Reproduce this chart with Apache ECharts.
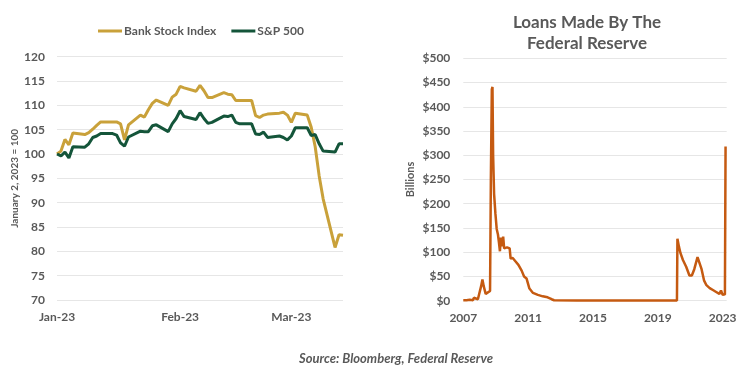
<!DOCTYPE html>
<html><head><meta charset="utf-8">
<script src="https://cdn.jsdelivr.net/npm/echarts@6/dist/echarts.min.js"></script>
<style>html,body{margin:0;padding:0;background:#fff}#c{width:750px;height:370px}</style>
</head><body><div id="c"></div><script>
// ---- Left chart data (January 2, 2023 = 100) ----
const tradeDates = ['01-02','01-03','01-04','01-05','01-06','01-09','01-10','01-11','01-12','01-13','01-16','01-17','01-18','01-19','01-20',
  '01-23','01-24','01-25','01-26','01-27','01-30','01-31','02-01','02-02','02-03','02-06','02-07','02-08','02-09','02-10',
  '02-13','02-14','02-15','02-16','02-17','02-20','02-21','02-22','02-23','02-24','02-27','02-28','03-01','03-02','03-03',
  '03-06','03-07','03-08','03-09','03-10','03-13','03-14','03-15'];
const bankIndex = [100.0,100.6,103.0,101.9,104.3,104.0,104.4,105.1,105.9,106.6,106.6,106.6,106.2,102.9,106.0,
  108.0,107.6,109.1,110.4,111.1,110.0,111.7,112.3,113.9,113.6,112.9,114.1,113.0,111.6,111.6,
  112.6,112.3,112.2,111.0,111.0,111.0,107.9,107.5,108.0,108.2,108.4,108.6,108.0,106.5,108.4,
  108.0,105.5,101.5,95.5,90.8,80.8,83.4,83.3];
const sp500 = [100.0,99.6,100.4,99.2,101.5,101.4,102.1,103.4,103.7,104.2,104.2,103.9,102.3,101.6,103.5,
  104.7,104.6,104.6,105.8,106.0,104.6,106.2,107.3,108.9,107.7,107.1,108.5,107.3,106.3,106.5,
  107.8,107.7,108.0,106.5,106.2,106.2,104.1,104.0,104.5,103.4,103.7,103.4,102.9,103.7,105.4,
  105.4,103.8,104.0,102.1,100.6,100.4,102.1,102.1];
const monthLabelDates = ['01-02','02-02','03-02'];
const monthLabels = ['Jan-23','Feb-23','Mar-23'];

// ---- Right chart data (Billions of dollars) ----
const fedYears = [2007.00,2007.20,2007.40,2007.60,2007.65,2007.70,2007.90,2008.00,2008.10,2008.18,2008.26,2008.38,2008.50,2008.65,
  2008.70,2008.76,2008.80,2008.84,2008.90,2008.98,2009.06,2009.14,2009.20,2009.26,2009.32,2009.38,2009.46,2009.52,2009.60,
  2009.70,2009.86,2009.92,2010.05,2010.20,2010.40,2010.60,2010.75,2010.90,2011.00,2011.08,2011.30,2011.60,2011.90,2012.20,
  2012.45,2012.60,2014.00,2016.00,2018.00,2019.60,2020.18,2020.21,2020.30,2020.40,2020.55,2020.75,2020.95,2021.10,2021.25,
  2021.45,2021.55,2021.70,2021.85,2022.00,2022.20,2022.40,2022.60,2022.70,2022.80,2022.90,2023.00,2023.14,2023.18];
const fedLoans = [1,1,2,1,6,2,3,4,30,44,30,14,18,20,
  250,436,441,300,220,180,148,136,120,102,130,112,132,108,112,
  110,108,87,88,82,74,62,50,46,44,25,16,12,9,7,
  3,1,0.5,0.5,0.5,0.5,0.5,128,112,98,84,70,52,52,65,
  90,87,65,42,32,26,22,18,20,14,21,12,13,318];
const yearLabels = ['2007','2011','2015','2019','2023'];

const dayNum = md => { const [m,d] = md.split('-').map(Number); return (Date.UTC(2023,m-1,d) - Date.UTC(2023,0,1)) / 864e5; };
const gray = '#595959';
const font = 'Lato, "Open Sans", sans-serif';
const bankColor = '#C9A13A', spColor = '#14553A', fedColor = '#C55A11';
const monthPos = monthLabelDates.map(dayNum);

const chart = echarts.init(document.getElementById('c'), null, {renderer:'canvas'});
chart.setOption({
  animation:false,
  textStyle:{fontFamily:font},
  title:[
    {text:'Loans Made By The\nFederal Reserve', left:582, top:7, textAlign:'center',
     textStyle:{fontSize:17, fontWeight:'bold', color:gray, lineHeight:21, fontFamily:font}},
    {text:'Source: Bloomberg, Federal Reserve', left:391, top:347, textAlign:'center',
     textStyle:{fontSize:13, fontWeight:'bold', fontStyle:'italic', color:gray, fontFamily:font}}
  ],
  legend:{left:93, top:20, icon:'rect', itemWidth:24, itemHeight:3, itemGap:15,
    textStyle:{color:gray, fontSize:12, fontWeight:'bold', fontFamily:font, padding:[0,0,0,-3]},
    data:['Bank Stock Index','S&P 500']},
  grid:[
    {left:57, top:56.7, width:286, height:243.3},
    {left:463.3, top:58.3, width:263.4, height:242.4}
  ],
  xAxis:[
    {type:'value', gridIndex:0, min:1, max:73, interval:1,
     axisLine:{show:false}, axisTick:{show:false}, splitLine:{show:false},
     axisLabel:{margin:11, color:gray, fontSize:12, fontWeight:'bold', fontFamily:font,
       formatter:v => { const i = monthPos.findIndex(p => Math.abs(p - v) < 1e-6); return i >= 0 ? monthLabels[i] : ''; }}},
    {type:'value', gridIndex:1, min:2007, max:2023.25, interval:1,
     axisLine:{show:false}, axisTick:{show:false}, splitLine:{show:false},
     axisLabel:{margin:11, color:gray, fontSize:12, fontWeight:'bold', fontFamily:font,
       formatter:v => { const s = String(Math.round(v)); return (Math.abs(v - Math.round(v)) < 1e-6 && yearLabels.includes(s)) ? s : ''; }}}
  ],
  yAxis:[
    {type:'value', gridIndex:0, min:70, max:120, interval:5,
     axisLine:{show:false}, axisTick:{show:false},
     splitLine:{lineStyle:{color:'#E6E6E6', width:1}},
     axisLabel:{margin:12, color:gray, fontSize:12, fontWeight:'bold', fontFamily:font},
     name:'January 2, 2023 = 100', nameLocation:'middle', nameRotate:90, nameGap:37,
     nameTextStyle:{fontSize:10, color:gray, fontWeight:'bold', fontFamily:font}},
    {type:'value', gridIndex:1, min:0, max:500, interval:50,
     axisLine:{show:false}, axisTick:{show:false},
     splitLine:{lineStyle:{color:'#E6E6E6', width:1}},
     axisLabel:{margin:13, color:gray, fontSize:12, fontWeight:'bold', fontFamily:font, formatter:v => '$' + v},
     name:'Billions', nameLocation:'middle', nameRotate:90, nameGap:47,
     nameTextStyle:{fontSize:11, color:gray, fontWeight:'bold', fontFamily:font}}
  ],
  series:[
    {name:'Bank Stock Index', type:'line', xAxisIndex:0, yAxisIndex:0, showSymbol:false,
     lineStyle:{color:bankColor, width:3}, itemStyle:{color:bankColor},
     data:tradeDates.map((d,i) => [dayNum(d), bankIndex[i]])},
    {name:'S&P 500', type:'line', xAxisIndex:0, yAxisIndex:0, showSymbol:false,
     lineStyle:{color:spColor, width:3}, itemStyle:{color:spColor},
     data:tradeDates.map((d,i) => [dayNum(d), sp500[i]])},
    {name:'Fed Loans', type:'line', xAxisIndex:1, yAxisIndex:1, showSymbol:false,
     lineStyle:{color:fedColor, width:2.5}, itemStyle:{color:fedColor},
     data:fedYears.map((y,i) => [y, fedLoans[i]])}
  ]
});
</script></body></html>
